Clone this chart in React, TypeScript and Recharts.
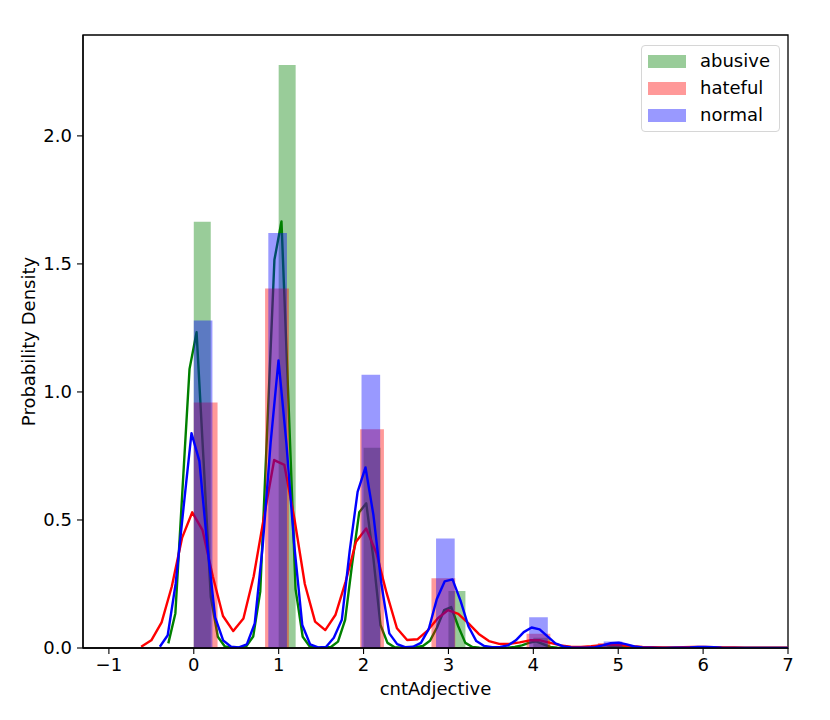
import React from 'react';
import { ComposedChart, Area, Line, XAxis, YAxis, Legend, ReferenceArea } from 'recharts';

const FONT = '"DejaVu Sans", sans-serif';

const xTicks = [-1, 0, 1, 2, 3, 4, 5, 6, 7];
const yTicks = [0, 0.5, 1, 1.5, 2];
const xDomain = [-1.305, 7];
const yDomain = [0, 2.394];

const seriesNames = ['abusive', 'hateful', 'normal'];
const seriesColors = ['#008000', '#ff0000', '#0000ff'];

// histogram bins (left edges, bin width, density heights)
const abusiveBinStarts = [0, 1, 2, 3, 4, 5];
const abusiveBinWidth = 0.2;
const abusiveHeights = [1.665, 2.277, 0.782, 0.223, 0.04, 0.006];

const hatefulBinStarts = [0, 0.84, 1.96, 2.8, 3.92, 4.76, 5.88];
const hatefulBinWidth = 0.28;
const hatefulHeights = [0.959, 1.404, 0.854, 0.272, 0.056, 0.02, 0.005];

const normalBinStarts = [0, 0.878, 1.976, 2.854, 3.951, 4.829, 5.927];
const normalBinWidth = 0.2195;
const normalHeights = [1.279, 1.621, 1.067, 0.428, 0.12, 0.025, 0.005];

// KDE curves
const abusiveKdeX = [
  -0.300, -0.217, -0.133, -0.050, 0.033, 0.117, 0.200, 0.283, 0.366, 0.450,
  0.533, 0.616, 0.700, 0.783, 0.866, 0.950, 1.033, 1.116, 1.199, 1.283,
  1.366, 1.449, 1.533, 1.616, 1.699, 1.783, 1.866, 1.949, 2.032, 2.116,
  2.199, 2.282, 2.366, 2.449, 2.532, 2.616, 2.699, 2.782, 2.865, 2.949,
  3.032, 3.115, 3.199, 3.282, 3.365, 3.449, 3.532, 3.615, 3.698, 3.782,
  3.865, 3.948, 4.032, 4.115, 4.198, 4.282, 4.365, 4.448, 4.531, 4.615,
  4.698, 4.781, 4.865, 4.948, 5.031, 5.115, 5.198, 5.281, 5.364, 5.448,
  5.531, 5.614, 5.698, 5.781, 5.864, 5.948, 6.031, 6.114, 6.197, 6.281,
  6.364, 6.447, 6.531, 6.614, 6.697, 6.781, 6.864, 6.947, 7.030, 7.114,
];
const abusiveKdeY = [
  0.018, 0.135, 0.62, 1.09, 1.233, 0.72, 0.20, 0.044, 0.006, 0.001,
  0.001, 0.006, 0.045, 0.22, 0.86, 1.516, 1.666, 0.96, 0.23, 0.044,
  0.006, 0.001, 0.001, 0.004, 0.025, 0.11, 0.33, 0.53, 0.565, 0.35,
  0.09, 0.02, 0.003, 0.001, 0.001, 0.003, 0.008, 0.028, 0.08, 0.148,
  0.16, 0.085, 0.02, 0.004, 0.001, 0, 0, 0, 0.001, 0.004,
  0.01, 0.02, 0.026, 0.015, 0.004, 0.001, 0, 0, 0, 0,
  0, 0.001, 0.002, 0.004, 0.005, 0.003, 0.001, 0, 0, 0,
  0, 0, 0, 0, 0.001, 0.002, 0.002, 0.001, 0, 0,
  0, 0, 0, 0, 0, 0, 0, 0, 0, 0,
];

const hatefulKdeX = [
  -0.620, -0.500, -0.379, -0.259, -0.138, -0.018, 0.103, 0.224, 0.344, 0.465,
  0.585, 0.706, 0.826, 0.947, 1.067, 1.188, 1.308, 1.429, 1.549, 1.670,
  1.790, 1.911, 2.031, 2.152, 2.272, 2.393, 2.513, 2.634, 2.754, 2.875,
  2.995, 3.116, 3.236, 3.357, 3.477, 3.598, 3.718, 3.839, 3.959, 4.080,
  4.200, 4.321, 4.441, 4.562, 4.682, 4.803, 4.923, 5.044, 5.164, 5.285,
  5.405, 5.526, 5.646, 5.767, 5.887, 6.008, 6.128, 6.249, 6.369, 6.490,
  6.610, 6.731, 6.851, 6.972, 7.092, 7.213,
];
const hatefulKdeY = [
  0.005, 0.03, 0.10, 0.24, 0.43, 0.53, 0.46, 0.28, 0.125, 0.066,
  0.115, 0.28, 0.51, 0.734, 0.715, 0.50, 0.25, 0.103, 0.07, 0.13,
  0.26, 0.415, 0.467, 0.37, 0.214, 0.077, 0.031, 0.034, 0.068, 0.116,
  0.148, 0.133, 0.096, 0.055, 0.027, 0.016, 0.016, 0.022, 0.03, 0.03,
  0.02, 0.01, 0.005, 0.004, 0.007, 0.011, 0.013, 0.011, 0.007, 0.004,
  0.003, 0.002, 0.002, 0.003, 0.004, 0.004, 0.003, 0.002, 0.002, 0.001,
  0.001, 0.001, 0.001, 0.001, 0.001, 0.001,
];

const normalKdeX = [
  -0.400, -0.307, -0.214, -0.120, -0.027, 0.066, 0.159, 0.252, 0.346, 0.439,
  0.532, 0.625, 0.718, 0.812, 0.905, 0.998, 1.091, 1.184, 1.278, 1.371,
  1.464, 1.557, 1.650, 1.744, 1.837, 1.930, 2.023, 2.116, 2.210, 2.303,
  2.396, 2.489, 2.582, 2.676, 2.769, 2.862, 2.955, 3.048, 3.142, 3.235,
  3.328, 3.421, 3.514, 3.608, 3.701, 3.794, 3.887, 3.980, 4.074, 4.167,
  4.260, 4.353, 4.446, 4.540, 4.633, 4.726, 4.819, 4.912, 5.006, 5.099,
  5.192, 5.285, 5.378, 5.472, 5.565, 5.658, 5.751, 5.844, 5.938, 6.031,
  6.124, 6.217, 6.310, 6.404, 6.497, 6.590, 6.683, 6.776, 6.870, 6.963,
  7.056,
];
const normalKdeY = [
  0.005, 0.05, 0.25, 0.55, 0.839, 0.73, 0.40, 0.12, 0.03, 0.005,
  0.002, 0.014, 0.096, 0.40, 0.80, 1.123, 0.80, 0.40, 0.09, 0.014,
  0.002, 0.004, 0.04, 0.11, 0.38, 0.61, 0.705, 0.52, 0.25, 0.057,
  0.015, 0.003, 0.005, 0.02, 0.075, 0.19, 0.26, 0.268, 0.185, 0.085,
  0.027, 0.008, 0.003, 0.004, 0.01, 0.03, 0.062, 0.08, 0.073, 0.045,
  0.018, 0.006, 0.002, 0.001, 0.001, 0.003, 0.01, 0.019, 0.021, 0.014,
  0.006, 0.002, 0.001, 0, 0, 0.001, 0.001, 0.002, 0.004, 0.004,
  0.003, 0.001, 0, 0, 0, 0, 0, 0, 0, 0,
  0,
];

type Pt = { x: number; y: number };

function histToSteps(starts: number[], width: number, heights: number[]): Pt[] {
  const out: Pt[] = [];
  starts.forEach((s, i) => {
    out.push({ x: s, y: heights[i] });
    out.push({ x: s + width, y: 0 });
  });
  return out;
}

function zipXY(xs: number[], ys: number[]): Pt[] {
  return xs.map((x, i) => ({ x, y: ys[i] }));
}

const hists = [
  histToSteps(abusiveBinStarts, abusiveBinWidth, abusiveHeights),
  histToSteps(hatefulBinStarts, hatefulBinWidth, hatefulHeights),
  histToSteps(normalBinStarts, normalBinWidth, normalHeights),
];
const kdes = [
  zipXY(abusiveKdeX, abusiveKdeY),
  zipXY(hatefulKdeX, hatefulKdeY),
  zipXY(normalKdeX, normalKdeY),
];

const fmtX = (v: number) => (v < 0 ? '\u2212' + Math.abs(v) : String(v));
const fmtY = (v: number) => v.toFixed(1);

const tickStyle = { fill: '#000', fontSize: 18, fontFamily: FONT };

const LegendBox = () => (
  <div
    style={{
      position: 'relative',
      boxSizing: 'border-box',
      width: 139,
      height: 87,
      border: '1px solid #d6d6d6',
      borderRadius: 4,
      background: 'rgba(255,255,255,0.8)',
      fontFamily: FONT,
      fontSize: 18,
      color: '#000',
    }}
  >
    {seriesNames.map((name, i) => (
      <React.Fragment key={name}>
        <div
          style={{
            position: 'absolute',
            left: 6,
            top: 8.5 + 27 * i,
            width: 38,
            height: 13,
            background: seriesColors[i],
            opacity: 0.4,
          }}
        />
        <div
          style={{
            position: 'absolute',
            left: 58,
            top: 4 + 27 * i,
            lineHeight: '22px',
            whiteSpace: 'nowrap',
          }}
        >
          {name}
        </div>
      </React.Fragment>
    ))}
  </div>
);

const YLabel = (props: any) => {
  const vb = props.viewBox || { x: 23, y: 35, width: 60, height: 613 };
  const cx = vb.x + 12;
  const cy = vb.y + vb.height / 2;
  return (
    <text
      x={cx}
      y={cy}
      transform={`rotate(-90 ${cx} ${cy})`}
      textAnchor="middle"
      fontSize={18}
      fontFamily={FONT}
      fill="#000"
    >
      Probability Density
    </text>
  );
};

const XLabel = (props: any) => {
  const vb = props.viewBox || { x: 83, y: 648, width: 705, height: 50 };
  const cx = vb.x + vb.width / 2;
  const cy = vb.y + 47;
  return (
    <text x={cx} y={cy} textAnchor="middle" fontSize={18} fontFamily={FONT} fill="#000">
      cntAdjective
    </text>
  );
};

export default function App() {
  return (
    <div style={{ position: 'absolute', left: 0, top: 0, width: 830, height: 720, background: '#fff' }}>
      <ComposedChart width={830} height={720} margin={{ top: 35, right: 42, bottom: 22, left: 23 }}>
        <XAxis
          dataKey="x"
          type="number"
          domain={xDomain}
          ticks={xTicks}
          allowDataOverflow
          tickFormatter={fmtX}
          tick={tickStyle}
          tickSize={6}
          tickMargin={4}
          height={50}
          axisLine={{ stroke: '#000', strokeWidth: 1.3 }}
          tickLine={{ stroke: '#000', strokeWidth: 1.1 }}
          label={<XLabel />}
        />
        <YAxis
          type="number"
          domain={yDomain}
          ticks={yTicks}
          allowDataOverflow
          tickFormatter={fmtY}
          tick={tickStyle}
          tickSize={6}
          tickMargin={5}
          width={60}
          axisLine={{ stroke: '#000', strokeWidth: 1.3 }}
          tickLine={{ stroke: '#000', strokeWidth: 1.1 }}
          label={<YLabel />}
        />
        <ReferenceArea
          x1={xDomain[0]}
          x2={xDomain[1]}
          y1={yDomain[0]}
          y2={yDomain[1]}
          fill="none"
          fillOpacity={0}
          stroke="#000"
          strokeWidth={1.3}
          ifOverflow="visible"
        />
        {seriesNames.flatMap((name, i) => [
          <Area
            key={name + '-hist'}
            data={hists[i]}
            dataKey="y"
            type="stepAfter"
            fill={seriesColors[i]}
            fillOpacity={0.4}
            stroke="none"
            isAnimationActive={false}
            activeDot={false}
            legendType="rect"
            name={name}
            zIndex={101 + i * 2}
          />,
          <Line
            key={name + '-kde'}
            data={kdes[i]}
            dataKey="y"
            type="linear"
            stroke={seriesColors[i]}
            strokeWidth={2.4}
            strokeLinejoin="round"
            dot={false}
            activeDot={false}
            isAnimationActive={false}
            legendType="none"
            zIndex={102 + i * 2}
          />,
        ])}
        <Legend
          layout="vertical"
          align="center"
          verticalAlign="middle"
          content={<LegendBox />}
          wrapperStyle={{ left: 641, top: 45, width: 139, height: 87 }}
        />
      </ComposedChart>
    </div>
  );
}
